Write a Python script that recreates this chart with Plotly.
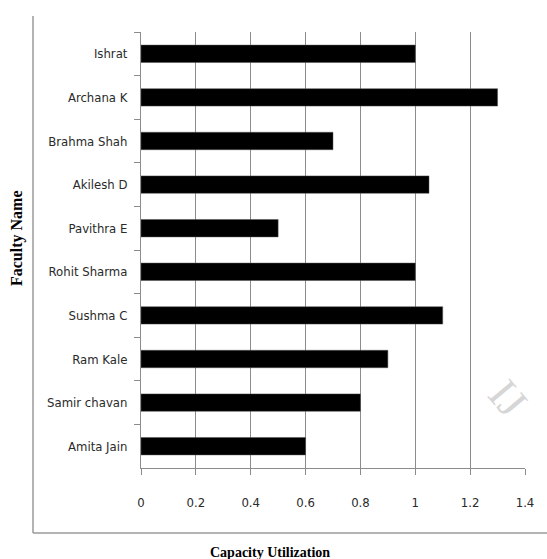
import plotly.graph_objects as go

faculty = ["Ishrat", "Archana K", "Brahma Shah", "Akilesh D", "Pavithra E",
           "Rohit Sharma", "Sushma C", "Ram Kale", "Samir chavan", "Amita Jain"]
utilization = [1.0, 1.3, 0.7, 1.05, 0.5, 1.0, 1.1, 0.9, 0.8, 0.6]
x_ticks = [0, 0.2, 0.4, 0.6, 0.8, 1.0, 1.2, 1.4]
x_tick_labels = ["0", "0.2", "0.4", "0.6", "0.8", "1", "1.2", "1.4"]

W, H = 547, 559
L, R, T, B = 141, 22, 32, 91
pw, ph = W - L - R, H - T - B

def px(x):
    return (x - L) / pw

def py(y):
    return (H - B - y) / ph

tick_font = dict(family="DejaVu Sans Condensed, sans-serif",
                 size=13, color="#2a2a2a")
title_font = "Liberation Serif, Times New Roman, serif"

fig = go.Figure(go.Bar(
    x=utilization, y=faculty, orientation="h",
    marker=dict(color="black", line=dict(color="#555", width=0.5)),
))

fig.update_layout(
    width=W, height=H,
    margin=dict(l=L, r=R, t=T, b=B),
    paper_bgcolor="white", plot_bgcolor="white",
    bargap=0.6, showlegend=False,
    xaxis=dict(range=[0, 1.4], tickvals=x_ticks, ticktext=x_tick_labels,
               showgrid=True, gridcolor="#8c8c8c", gridwidth=1,
               showline=True, linecolor="#8c8c8c", linewidth=1,
               ticks="outside", ticklen=6, tickcolor="#8c8c8c",
               tickfont=tick_font, ticklabelstandoff=16, zeroline=False),
    yaxis=dict(autorange="reversed", type="category",
               showline=True, linecolor="#8c8c8c", linewidth=1,
               ticks="outside", ticklen=6, tickcolor="#8c8c8c",
               tickson="boundaries", showgrid=False,
               tickfont=tick_font, ticklabelstandoff=10),
    shapes=[
        dict(type="line", xref="paper", yref="paper",
             x0=px(33), x1=px(33), y0=py(16), y1=py(533),
             line=dict(color="#9a9a9a", width=1.5)),
        dict(type="line", xref="paper", yref="paper",
             x0=px(33), x1=px(W + 5), y0=py(533), y1=py(533),
             line=dict(color="#9a9a9a", width=1.5)),
    ],
    annotations=[
        dict(text="<b>Faculty Name</b>", xref="paper", yref="paper",
             x=px(17), y=py(238), textangle=-90, showarrow=False,
             xanchor="center", yanchor="middle",
             font=dict(family=title_font, size=16, color="black")),
        dict(text="<b>Capacity Utilization</b>", xref="paper", yref="paper",
             x=px(270), y=py(543), showarrow=False,
             xanchor="center", yanchor="top",
             font=dict(family=title_font, size=14, color="black")),
        dict(text="IJ", xref="paper", yref="paper",
             x=px(508), y=py(398), textangle=50, showarrow=False,
             xanchor="center", yanchor="middle",
             font=dict(family=title_font, size=44, color="#d6d6d6")),
    ],
)

fig.write_html("out.html")
